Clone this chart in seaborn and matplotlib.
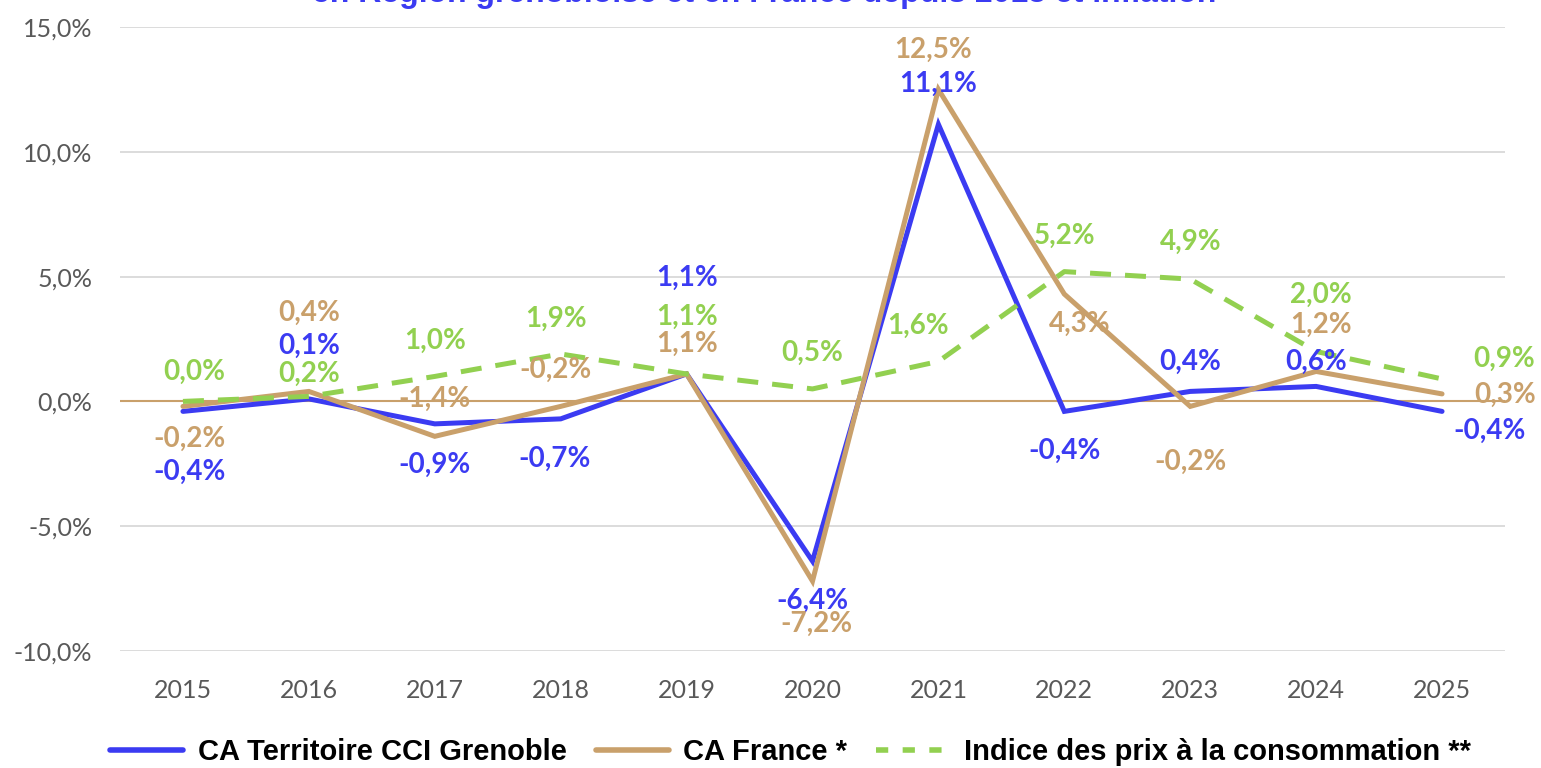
import numpy as np
import pandas as pd
import seaborn as sns
import matplotlib.pyplot as plt
from matplotlib.lines import Line2D

# --- data ---
years = [2015, 2016, 2017, 2018, 2019, 2020, 2021, 2022, 2023, 2024, 2025]
ca_grenoble = [-0.4, 0.1, -0.9, -0.7, 1.1, -6.4, 11.1, -0.4, 0.4, 0.6, -0.4]
ca_france = [-0.2, 0.4, -1.4, -0.2, 1.1, -7.2, 12.5, 4.3, -0.2, 1.2, 0.3]
ipc = [0.0, 0.2, 1.0, 1.9, 1.1, 0.5, 1.6, 5.2, 4.9, 2.0, 0.9]
y_ticks = [-10, -5, 0, 5, 10, 15]

names = ['CA Territoire CCI Grenoble', 'CA France *', 'Indice des prix à la consommation **']
colors = {names[0]: '#3B3BF2', names[1]: '#C9A06B', names[2]: '#92D050'}

# label offsets in pixels (dx, dy) relative to each point
off_gre = [(7, -60), (0, 53), (0, -41), (-6, -40), (0, 96), (0, -40), (0, 40), (0, -39), (0, 30), (0, 25), (48, -19)]
off_fra = [(7, -32), (0, 79), (0, 37), (-5, 37), (0, 30), (4, -43), (-5, 40), (15, -30), (0, -55), (5, 47), (63, -1)]
off_ipc = [(11, 30), (0, 23), (0, 36), (-5, 35), (0, 57), (0, 36), (-20, 36), (0, 36), (0, 37), (5, 57), (62, 20)]

df = pd.DataFrame({
    'annee': years * 3,
    'valeur': ca_grenoble + ca_france + ipc,
    'serie': [names[0]] * 11 + [names[1]] * 11 + [names[2]] * 11,
})

sns.set_style('white')
plt.rcParams['font.family'] = ['Lato', 'DejaVu Sans']

fig = plt.figure(figsize=(15.41, 7.68), dpi=100)
ax = fig.add_axes([120 / 1541, 1 - 651 / 768, 1385 / 1541, 624 / 768])

# gridlines and zero line
for t in y_ticks:
    if t != 0:
        ax.axhline(t, color='#D9D9D9', lw=1.3, zorder=0)
ax.axhline(0, color='#C9A06B', lw=1.5, zorder=1)

sns.lineplot(data=df, x='annee', y='valeur', hue='serie', style='serie',
             palette=colors, dashes={names[0]: '', names[1]: '', names[2]: (4.2, 2.8)},
             lw=3.6, legend=False, ax=ax, sort=False)
for i, line in enumerate(ax.get_lines()[-3:]):
    line.set_zorder(2 + i)
    line.set_solid_joinstyle('miter')

def add_labels(values, offsets, color):
    for x, v, (dx, dy) in zip(years, values, offsets):
        ax.annotate(f'{v:.1f}%'.replace('.', ','), (x, v), xytext=(dx, dy),
                    textcoords='offset pixels', ha='center', va='center',
                    fontsize=20, fontweight='bold', color=color, zorder=10)

add_labels(ca_grenoble, off_gre, colors[names[0]])
add_labels(ca_france, off_fra, colors[names[1]])
add_labels(ipc, off_ipc, colors[names[2]])

ax.set_xlim(2014.5, 2025.5)
ax.set_ylim(-10, 15)
ax.set_xticks(years)
ax.set_xticklabels([str(y) for y in years])
ax.set_yticks(y_ticks)
ax.set_yticklabels([f'{t:.1f}%'.replace('.', ',') for t in y_ticks])
ax.tick_params(axis='both', length=0, labelsize=18, colors='#595959')
ax.tick_params(axis='y', pad=20)
ax.tick_params(axis='x', pad=20)
ax.set_xlabel('')
ax.set_ylabel('')
sns.despine(ax=ax, left=True, bottom=True)

# title (cut off at the top of the image, as in the source)
fig.text(0.496, 1 - 9 / 768, 'en Région grenobloise et en France depuis 2015 et inflation',
         ha='center', va='bottom', fontsize=23, fontweight='bold', color='#3B3BF2',
         family='Liberation Sans')

handles = [
    Line2D([0], [0], color=colors[names[0]], lw=4),
    Line2D([0], [0], color=colors[names[1]], lw=4),
    Line2D([0], [0], color=colors[names[2]], lw=4, dashes=(2.2, 2.6)),
]
leg = fig.legend(handles, names, loc='center', bbox_to_anchor=(0.513, 1 - 752 / 768),
                 ncol=3, frameon=False, handlelength=2.5, columnspacing=1.0, handletextpad=0.5,
                 prop={'family': 'Liberation Sans', 'weight': 'bold', 'size': 21})
for txt in leg.get_texts():
    txt.set_color('black')

fig.savefig('out.png', dpi=100)
